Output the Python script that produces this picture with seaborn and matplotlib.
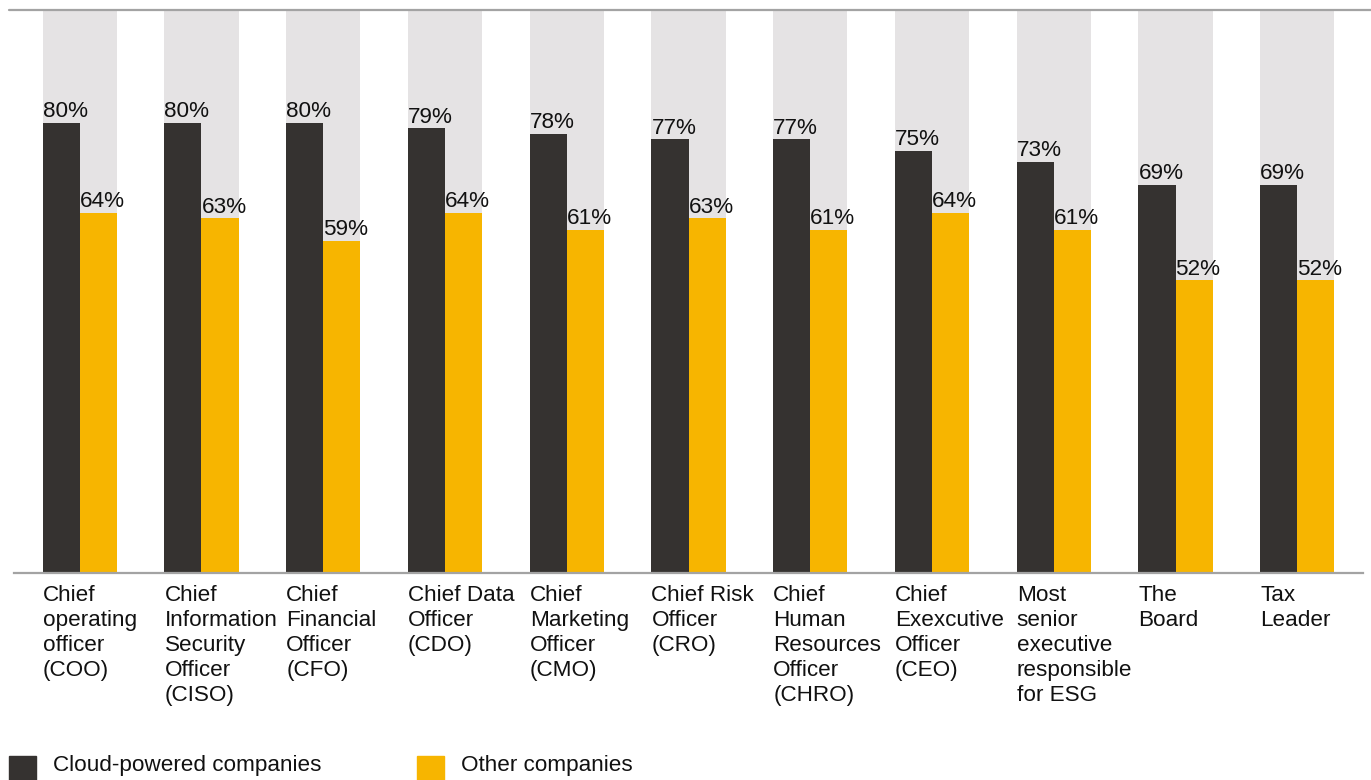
import numpy as np
import pandas as pd
import matplotlib
matplotlib.use("Agg")
import matplotlib.pyplot as plt
import seaborn as sns
from matplotlib.patches import Rectangle
from matplotlib.lines import Line2D

# Data
roles = [
    "Chief\noperating\nofficer\n(COO)",
    "Chief\nInformation\nSecurity\nOfficer\n(CISO)",
    "Chief\nFinancial\nOfficer\n(CFO)",
    "Chief Data\nOfficer\n(CDO)",
    "Chief\nMarketing\nOfficer\n(CMO)",
    "Chief Risk\nOfficer\n(CRO)",
    "Chief\nHuman\nResources\nOfficer\n(CHRO)",
    "Chief\nExexcutive\nOfficer\n(CEO)",
    "Most\nsenior\nexecutive\nresponsible\nfor ESG",
    "The\nBoard",
    "Tax\nLeader",
]
cloud = [80, 80, 80, 79, 78, 77, 77, 75, 73, 69, 69]
other = [64, 63, 59, 64, 61, 63, 61, 64, 61, 52, 52]
full = [100] * len(roles)
groups = ["Cloud-powered companies", "Other companies"]

dark = "#353230"
yellow = "#F7B500"
grey_bg = "#E5E3E4"
line_col = "#A3A3A3"
fs = 16.2

sns.set_theme(style="white")
plt.rcParams["font.family"] = ["Liberation Sans", "DejaVu Sans"]

df = pd.DataFrame({
    "role": roles * 2,
    "value": cloud + other,
    "group": [groups[0]] * len(roles) + [groups[1]] * len(roles),
})

fig = plt.figure(figsize=(13.71, 7.80), dpi=100)
ax = fig.add_axes([14 / 1371, 1 - 573 / 780, (1363 - 14) / 1371, (573 - 10) / 780])

bw = 0.608
# grey 100% background bars
sns.barplot(x=roles, y=full, color=grey_bg, width=bw, ax=ax, saturation=1, linewidth=0)
# main bars
sns.barplot(data=df, x="role", y="value", hue="group", order=roles,
            palette=[dark, yellow], width=bw, gap=0, saturation=1,
            linewidth=0, ax=ax, legend=False)

ax.set_ylim(0, 100)
ax.set_xlim(-0.54, 10.54)
ax.set_xlabel("")
ax.set_ylabel("")
ax.set_yticks([])
for s in ["left", "right", "top"]:
    ax.spines[s].set_visible(False)
ax.spines["bottom"].set_color(line_col)
ax.spines["bottom"].set_linewidth(1.6)

# category labels, left aligned with the group's left edge
xs = np.arange(len(roles))
ax.set_xticks(xs - bw / 2)
ax.set_xticklabels(roles, ha="left", fontsize=fs, color="#111111", linespacing=1.25, va="top")
ax.tick_params(axis="x", length=0, pad=8.5)

# value labels
half = bw / 2
for i in range(len(roles)):
    ax.annotate(f"{cloud[i]}%", (i - half, cloud[i]), xytext=(0, 4), textcoords="offset points",
                ha="left", va="baseline", fontsize=fs, color="#111111")
    ax.annotate(f"{other[i]}%", (i, other[i]), xytext=(0, 4), textcoords="offset points",
                ha="left", va="baseline", fontsize=fs, color="#111111")

# top rule
fig.add_artist(Line2D([9 / 1371, 1.0], [1 - 10 / 780, 1 - 10 / 780], color=line_col, lw=1.6,
                      transform=fig.transFigure))

# legend
W, H = 1371, 780
fig.add_artist(Rectangle((9 / W, 0), 27 / W, 24 / H, color=dark, transform=fig.transFigure))
fig.text(53 / W, 1 - 766 / H, groups[0], fontsize=fs, va="center", ha="left", color="#111111")
fig.add_artist(Rectangle((417 / W, 0), 27 / W, 24 / H, color=yellow, transform=fig.transFigure))
fig.text(461 / W, 1 - 766 / H, groups[1], fontsize=fs, va="center", ha="left", color="#111111")

fig.savefig("out.png", dpi=100)
